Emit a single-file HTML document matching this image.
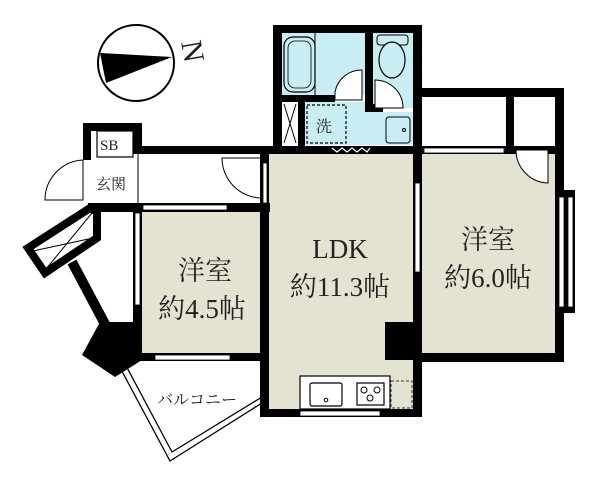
<!DOCTYPE html>
<html><head><meta charset="utf-8"><style>
html,body{margin:0;padding:0;background:#fff;width:600px;height:483px;overflow:hidden}
svg{display:block}
text{font-family:"Liberation Serif","Noto Serif CJK SC",serif;fill:#222}
</style></head><body>
<svg width="600" height="483" viewBox="0 0 600 483" xmlns="http://www.w3.org/2000/svg">
<!-- compass -->
<circle cx="136" cy="63" r="38" fill="#fff" stroke="#000" stroke-width="2"/>
<polygon points="100,53 106,83 172,57" fill="#000"/>
<text x="0" y="0" font-size="30" text-anchor="middle" transform="translate(183,53) rotate(80)">N</text>

<!-- floors -->
<rect x="142" y="212" width="120" height="141" fill="#e4e3d2"/>
<rect x="268" y="154" width="145" height="256" fill="#e4e3d2"/>
<rect x="422" y="154" width="133" height="199" fill="#e4e3d2"/>
<!-- wet areas -->
<rect x="282" y="33" width="83" height="62" fill="#c8eef4"/>
<rect x="373" y="33" width="40" height="75" fill="#c8eef4"/>
<rect x="305" y="102" width="78" height="43" fill="#c8eef4"/>
<rect x="383" y="112" width="30" height="33" fill="#c8eef4"/>

<!-- walls -->
<g fill="#000">
<rect x="273" y="25" width="149" height="8"/>
<rect x="273" y="25" width="9" height="127"/>
<rect x="413" y="25" width="9" height="127"/>
<rect x="365" y="33" width="8" height="79"/>
<rect x="365" y="104" width="18" height="8"/>
<rect x="282" y="95" width="53" height="7"/>
<rect x="298" y="95" width="7" height="52"/>
<rect x="422" y="88" width="142" height="9"/>
<rect x="555" y="88" width="9" height="274"/>
<rect x="506" y="97" width="8" height="57"/>
<rect x="140" y="146" width="424" height="8"/>
<rect x="83" y="123" width="59" height="8"/>
<rect x="83" y="123" width="8" height="37"/>
<rect x="133" y="123" width="9" height="31"/>
<rect x="88" y="203" width="182" height="9"/>
<rect x="260" y="146" width="9" height="271"/>
<rect x="413" y="146" width="9" height="271"/>
<rect x="260" y="409" width="162" height="8"/>
<rect x="133" y="203" width="9" height="158"/>
<rect x="133" y="353" width="135" height="8"/>
<rect x="422" y="353" width="142" height="9"/>
<rect x="385" y="322" width="37" height="38"/>
<rect x="557" y="190" width="18" height="123"/>
<polygon points="100,322 142,322 142,360 115,377 82,355"/>
</g>
<!-- angled box -->
<polygon points="28,248 90,208 97,212 97,238 45,273" fill="#fff" stroke="#000" stroke-width="8" stroke-linejoin="miter"/>
<line x1="72" y1="262" x2="106" y2="326" stroke="#000" stroke-width="10"/>
<g stroke="#000" stroke-width="1" fill="none">
<line x1="33" y1="251" x2="93" y2="238"/>
<line x1="46" y1="269" x2="92" y2="213"/>
</g>

<!-- interior white rooms -->
<rect x="91" y="131" width="42" height="72" fill="#fff"/>
<rect x="97" y="131" width="36" height="26" fill="#fff" stroke="#000" stroke-width="1.2"/>
<line x1="138" y1="154" x2="138" y2="203" stroke="#000" stroke-width="1"/>
<rect x="142" y="154" width="118" height="49" fill="#fff"/>
<rect x="422" y="97" width="84" height="49" fill="#fff"/>
<rect x="514" y="97" width="41" height="49" fill="#fff"/>

<!-- windows -->
<g fill="#fff" stroke="#000" stroke-width="0.8">
<rect x="143" y="205" width="84" height="5"/>
<rect x="135" y="213" width="5" height="92"/>
<rect x="155" y="355" width="75" height="5"/>
<rect x="415" y="183" width="5" height="89"/>
<rect x="263" y="163" width="4" height="40"/>
<rect x="424" y="148" width="80" height="5"/>
<rect x="559" y="197" width="5" height="110"/>
<rect x="568" y="197" width="5" height="110"/>
<rect x="300" y="411" width="80" height="5"/>
</g>

<!-- doors -->
<g fill="#fff" stroke="#000" stroke-width="1">
<path d="M83,160 A40,40 0 0 0 45,200 L83,200 Z" fill="none"/>
<path d="M262,158 L222,158 A40,40 0 0 0 262,198" fill="none"/>
<path d="M516,150 L548,150 L548,183 A33,33 0 0 1 516,150 Z"/>
<path d="M335,95 L335,92 A27,27 0 0 1 362,70 L362,100 L335,100 Z"/>
<path d="M375,108 L375,80 A28,28 0 0 1 403,106 L403,108 Z"/>
</g>

<!-- bath fixtures -->
<rect x="284" y="37" width="31" height="55" rx="9" fill="#c8eef4" stroke="#000" stroke-width="1.2"/>
<rect x="288" y="41" width="23" height="47" rx="7" fill="none" stroke="#000" stroke-width="0.8"/>
<line x1="315" y1="33" x2="315" y2="95" stroke="#000" stroke-width="1"/>
<rect x="377" y="35" width="31" height="10" rx="3" fill="#c8eef4" stroke="#000" stroke-width="1"/>
<ellipse cx="392" cy="60" rx="13" ry="18" fill="#c8eef4" stroke="#000" stroke-width="1.2"/>
<rect x="386" y="117" width="24" height="26" rx="3" fill="#c8eef4" stroke="#000" stroke-width="1"/>
<circle cx="404" cy="130" r="1.5" fill="none" stroke="#000"/>
<rect x="307" y="105" width="39" height="38" fill="none" stroke="#000" stroke-width="1.2" stroke-dasharray="3,2"/>
<rect x="282" y="102" width="16" height="43" fill="#fff"/>
<g stroke="#000" stroke-width="1"><line x1="284" y1="104" x2="296" y2="143"/><line x1="296" y1="104" x2="284" y2="143"/></g>
<polyline points="332,148 337,152 342,148 347,152 352,148 357,152 362,148 367,152 370,148" fill="none" stroke="#fff" stroke-width="1.2"/>
<text x="316" y="132" font-size="16">洗</text>
<text x="100" y="150" font-size="15">SB</text>
<text x="96" y="189" font-size="15">玄関</text>

<!-- kitchen -->
<rect x="300" y="376" width="90" height="33" fill="#fff" stroke="#000" stroke-width="1.2"/>
<rect x="310" y="383" width="32" height="23" rx="2" fill="#fff" stroke="#000" stroke-width="1.2"/>
<circle cx="326" cy="400" r="1.8" fill="none" stroke="#000"/>
<rect x="357" y="383" width="27" height="22" fill="#fff" stroke="#000" stroke-width="1.2"/>
<g fill="none" stroke="#000" stroke-width="1"><circle cx="364" cy="390" r="3"/><circle cx="377" cy="390" r="3"/><circle cx="370" cy="398" r="3"/></g>
<rect x="391" y="381" width="21" height="27" fill="none" stroke="#333" stroke-width="1" stroke-dasharray="3,2"/>

<!-- balcony -->
<polyline points="117,362 170,461 262,403" fill="none" stroke="#000" stroke-width="1.3"/>
<polyline points="124,362 172,452 262,397" fill="none" stroke="#000" stroke-width="1.3"/>
<text x="157" y="405" font-size="16" font-family="Liberation Sans,Noto Sans CJK JP,sans-serif">バルコニー</text>

<!-- labels -->
<text x="205" y="280" font-size="27" text-anchor="middle">洋室</text>
<text x="202" y="318" font-size="27" text-anchor="middle">約4.5帖</text>
<text x="340" y="258" font-size="27" text-anchor="middle">LDK</text>
<text x="340" y="296" font-size="27" text-anchor="middle">約11.3帖</text>
<text x="488" y="249" font-size="27" text-anchor="middle">洋室</text>
<text x="488" y="287" font-size="27" text-anchor="middle">約6.0帖</text>
</svg>
</body></html>
